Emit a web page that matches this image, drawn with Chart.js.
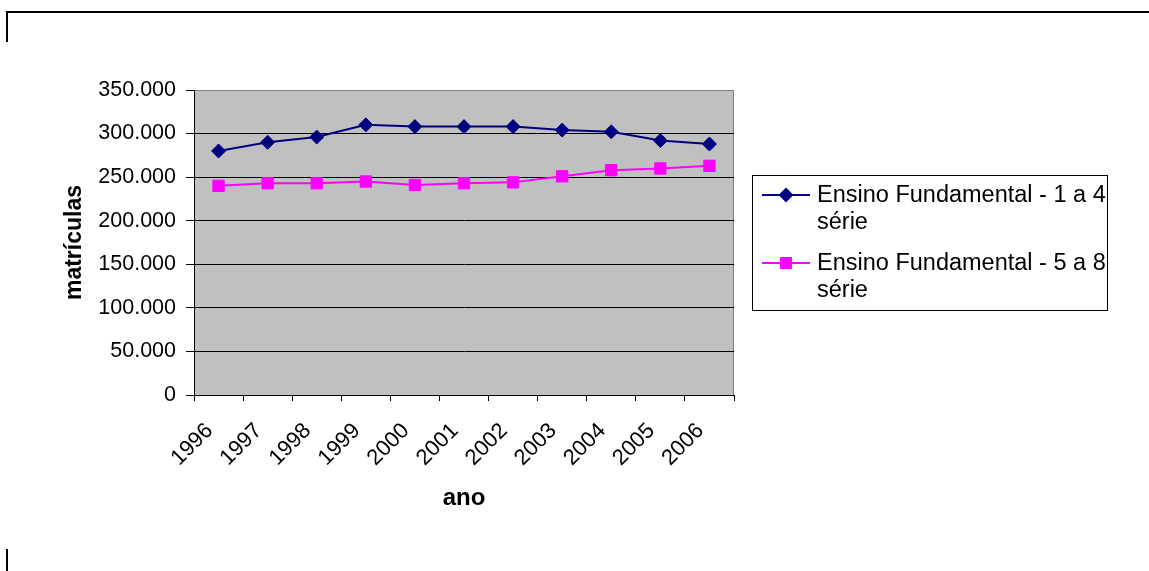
<!DOCTYPE html>
<html>
<head>
<meta charset="utf-8">
<script src="https://cdn.jsdelivr.net/npm/chart.js@4/dist/chart.umd.min.js"></script>
<style>
  body { margin: 0; background: #fff; }
  #wrap { position: relative; width: 1149px; height: 571px; }
  .frame { position: absolute; background: #000; }
</style>
</head>
<body>
<div id="wrap">
  <canvas id="chart" width="1149" height="571"></canvas>
  <div class="frame" style="left:6px; top:11px; width:1143px; height:2px;"></div>
  <div class="frame" style="left:6px; top:11px; width:2px; height:31px;"></div>
  <div class="frame" style="left:6px; top:549px; width:2px; height:22px;"></div>
</div>
<script>
// anos e matrículas
var anos = ['1996', '1997', '1998', '1999', '2000', '2001', '2002', '2003', '2004', '2005', '2006'];
var serie1a4 = [280000, 290000, 296000, 310000, 308000, 308000, 308000, 304000, 302000, 292000, 288000];
var serie5a8 = [240000, 243000, 243000, 245000, 241000, 243000, 244000, 251000, 258000, 260000, 263000];
var nomesSeries = ['Ensino Fundamental - 1 a 4 série', 'Ensino Fundamental - 5 a 8 série'];

var fonte = 'Arial, "Liberation Sans", sans-serif';

// formata 350000 -> 350.000
function formatar(v) {
    return String(v).replace(/\B(?=(\d{3})+(?!\d))/g, '.');
}

// fundo cinza da área do gráfico
var fundoPlugin = {
    id: 'fundo',
    beforeDraw: function(chart) {
        var a = chart.chartArea;
        var ctx = chart.ctx;
        ctx.save();
        ctx.fillStyle = '#C0C0C0';
        ctx.fillRect(a.left, a.top, a.right - a.left, a.bottom - a.top);
        ctx.strokeStyle = '#808080';
        ctx.lineWidth = 1;
        ctx.strokeRect(a.left + 0.5, a.top + 0.5, a.right - a.left - 1, a.bottom - a.top);
        ctx.restore();
    }
};

// legenda desenhada à mão (texto quebra em duas linhas)
var legendaPlugin = {
    id: 'legenda',
    afterDraw: function(chart) {
        var ctx = chart.ctx;
        var x0 = 752, y0 = 175, x1 = 1107, y1 = 310;
        ctx.save();
        ctx.strokeStyle = '#000';
        ctx.lineWidth = 1;
        ctx.strokeRect(x0 + 0.5, y0 + 0.5, x1 - x0, y1 - y0);
        ctx.font = '23.5px ' + fonte;
        ctx.fillStyle = '#000';
        ctx.textBaseline = 'middle';
        var maxW = x1 - 817;
        chart.data.datasets.forEach(function(ds, i) {
            var y = 195 + i * 68;
            ctx.strokeStyle = ds.borderColor;
            ctx.lineWidth = 2;
            ctx.beginPath();
            ctx.moveTo(762, y);
            ctx.lineTo(810, y);
            ctx.stroke();
            Chart.helpers.drawPoint(ctx, {
                pointStyle: ds.pointStyle,
                radius: ds.pointRadius - 1,
                rotation: 0,
                borderWidth: 1
            }, 786, y);
            ctx.fillStyle = ds.borderColor;
            ctx.fill();
            ctx.fillStyle = '#000';
            // quebra de linha
            var palavras = ds.label.split(' ');
            var linhas = [];
            var atual = '';
            palavras.forEach(function(p) {
                var teste = atual ? atual + ' ' + p : p;
                if (ctx.measureText(teste).width > maxW && atual) {
                    linhas.push(atual);
                    atual = p;
                } else {
                    atual = teste;
                }
            });
            linhas.push(atual);
            linhas.forEach(function(l, k) {
                ctx.fillText(l, 817, y + 1 + k * 27);
            });
        });
        ctx.restore();
    }
};

var config = {
    type: 'line',
    data: {
        labels: anos,
        datasets: [{
            label: nomesSeries[0],
            data: serie1a4,
            borderColor: '#000080',
            backgroundColor: '#000080',
            borderWidth: 2,
            pointStyle: 'rectRot',
            pointRadius: 7,
            pointBorderWidth: 1,
            tension: 0
        }, {
            label: nomesSeries[1],
            data: serie5a8,
            borderColor: '#FF00FF',
            backgroundColor: '#FF00FF',
            borderWidth: 2,
            pointStyle: 'rect',
            pointRadius: 8,
            pointBorderWidth: 1,
            tension: 0
        }]
    },
    options: {
        responsive: false,
        animation: false,
        devicePixelRatio: 1,
        layout: {
            padding: { left: 0, top: 90, right: 415, bottom: 40 }
        },
        plugins: {
            legend: { display: false },
            tooltip: { enabled: false }
        },
        scales: {
            x: {
                offset: true,
                grid: {
                    offset: true,
                    drawOnChartArea: false,
                    drawTicks: true,
                    tickLength: 6,
                    color: '#000'
                },
                border: { color: '#000', width: 1 },
                ticks: {
                    minRotation: 45,
                    maxRotation: 45,
                    padding: 17,
                    labelOffset: -9,
                    color: '#000',
                    font: { family: fonte, size: 22 }
                },
                title: {
                    display: true,
                    text: 'ano',
                    color: '#000',
                    font: { family: fonte, size: 24, weight: 'bold' },
                    padding: { top: 0, bottom: 18 }
                },
                afterFit: function(scale) { scale.height = 136; }
            },
            y: {
                min: 0,
                max: 350000,
                grid: {
                    color: function(c) { return c.tick && c.tick.value === 350000 ? '#808080' : '#000'; },
                    tickColor: '#000',
                    tickLength: 8,
                    lineWidth: 1
                },
                border: { color: '#000', width: 1 },
                ticks: {
                    stepSize: 50000,
                    padding: 10,
                    color: '#000',
                    font: { family: fonte, size: 21.5 },
                    callback: function(v) { return formatar(v); }
                },
                title: {
                    display: true,
                    text: 'matrículas',
                    color: '#000',
                    font: { family: fonte, size: 23, weight: 'bold' },
                    padding: { top: 61, bottom: 0 }
                },
                afterFit: function(scale) { scale.width = 194; }
            }
        }
    },
    plugins: [fundoPlugin, legendaPlugin]
};

var grafico = new Chart(document.getElementById('chart'), config);
</script>
</body>
</html>
